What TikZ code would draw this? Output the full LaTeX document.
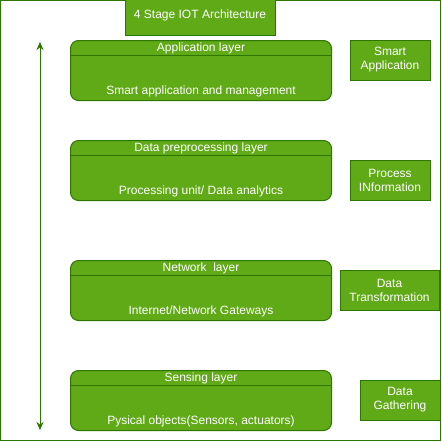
\documentclass[tikz,border=0pt]{standalone}
\usepackage{fontspec}
\setmainfont{Liberation Sans}
\usetikzlibrary{arrows.meta}
\definecolor{iotfill}{HTML}{60A917}
\definecolor{iotline}{HTML}{2D7600}
\begin{document}
\begin{tikzpicture}[x=1pt,y=-1pt,
  layerbox/.style={draw=iotline, fill=iotfill, line width=1pt, rounded corners=8pt, minimum width=261pt, minimum height=60pt, anchor=north west, inner sep=0pt},
  sidebox/.style={draw=iotline, fill=iotfill, line width=1pt, minimum height=40pt, text=white, font=\fontsize{12}{14}\selectfont, align=center, inner sep=0pt},
  labeltext/.style={text=white, font=\fontsize{12}{14}\selectfont, inner sep=0pt}]
\useasboundingbox (0,0) rectangle (442,442);
\draw[iotline, line width=1pt] (0.5,0.5) rectangle (440,440);
\node[sidebox, minimum width=150pt] (title) at (200,15) {4 Stage IOT Architecture};
\coordinate (arrtop) at (40,42);
\coordinate (arrbot) at (40,430);
\draw[iotline, line width=1pt, {Stealth[length=8pt,width=7pt]}-{Stealth[length=8pt,width=7pt]}] (arrbot) -- (arrtop);
\foreach \nm/\ytop/\head/\body in {app/40/{Application layer}/{Smart application and management},
    pre/140/{Data preprocessing layer}/{Processing unit/ Data analytics},
    net/260/{Network~ layer}/{Internet/Network Gateways},
    sen/370/{Sensing layer}/{Pysical objects(Sensors, actuators)}} {
  \node[layerbox] (\nm) at (70,\ytop) {};
  \draw[iotline, line width=1pt] ([yshift=-15pt]\nm.north west) -- ([yshift=-15pt]\nm.north east);
  \node[labeltext] (\nm head) at ([yshift=-8pt]\nm.north) {\head};
  \node[labeltext] (\nm body) at ([yshift=10pt]\nm.south) {\body};
}
\foreach \nm/\cx/\cy/\bw/\txt in {smart/390/60/80/{Smart\\Application},
    proc/390/180/80/{Process\\INformation},
    trans/389.5/290/99/{Data\\Transformation},
    gath/400/400/80/{Data\\Gathering}}
  \node[sidebox, minimum width=\bw pt] (\nm) at (\cx,\cy) {\txt};
\end{tikzpicture}
\end{document}
